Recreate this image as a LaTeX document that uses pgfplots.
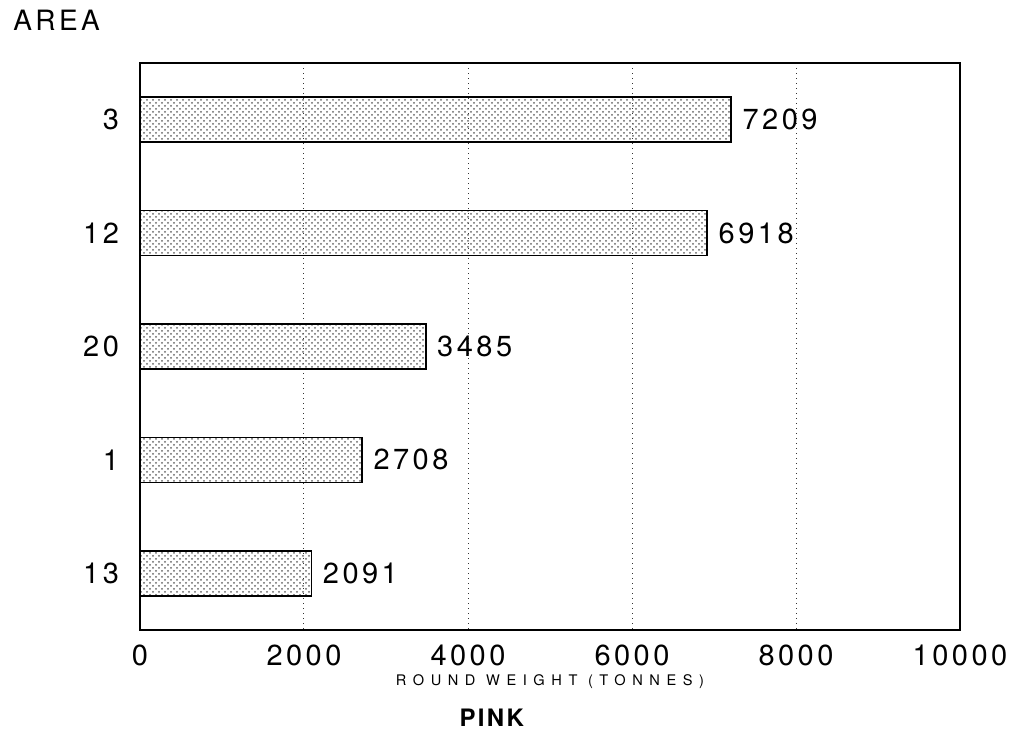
\documentclass[border=0pt]{standalone}
\usepackage{pgfplots}
\pgfplotsset{compat=1.18}
\usepackage{fontspec}
\setmainfont{TeX Gyre Heros}
\newfontfamily\spaced[LetterSpace=12]{TeX Gyre Heros}
\newfontfamily\wide[LetterSpace=45]{TeX Gyre Heros}
\newfontfamily\boldsp[LetterSpace=10]{TeX Gyre Heros}
\usetikzlibrary{patterns}
\begin{document}
\begin{tikzpicture}
\path[use as bounding box] (-70pt,-51.5pt) rectangle (436.5pt,315pt);
\begin{axis}[
  at={(0,0)}, anchor=south west,
  scale only axis,
  width=410pt, height=283.5pt,
  xbar, bar width=22.5pt, bar shift=0pt,
  xmin=0, xmax=10000,
  ymin=-0.5, ymax=4.5,
  y dir=reverse,
  ytick={0,1,2,3,4},
  yticklabels={3,12,20,1,13},
  xtick={0,2000,4000,6000,8000,10000},
  xticklabels={0,2000,4000,6000,8000,10000},
  scaled x ticks=false,
  /pgf/number format/assume math mode=true,
  ticklabel style={font=\spaced\fontsize{14.5}{14.5}\selectfont},
  xticklabel style={yshift=-4pt},
  yticklabel style={xshift=-7pt},
  major tick length=0pt,
  xmajorgrids,
  grid style={black!80, line width=0.5pt, dotted},
  axis line style={line width=0.9pt},
  point meta=explicit symbolic,
  nodes near coords,
  nodes near coords style={font=\spaced\fontsize{14.5}{14.5}\selectfont, anchor=west, xshift=2pt},
  clip=false,
]
\addplot[draw=black, line width=0.8pt, pattern=crosshatch dots, pattern color=black!60] coordinates {
  (7209,0) [7209]
  (6918,1) [6918]
  (3485,2) [3485]
  (2708,3) [2708]
  (2091,4) [2091]
};
\node[font=\wide\fontsize{7.3}{7.3}\selectfont] at (rel axis cs:0.5,0) [yshift=-26pt] {ROUND WEIGHT (TONNES)};
\node[font=\boldsp\bfseries\fontsize{12}{12}\selectfont] at (rel axis cs:0.429,0) [yshift=-44pt] {PINK};
\node[font=\spaced\fontsize{14}{14}\selectfont, anchor=west, inner sep=0pt] at (rel axis cs:0,1) [xshift=-63.5pt, yshift=21.5pt] {AREA};
\end{axis}
\end{tikzpicture}
\end{document}
